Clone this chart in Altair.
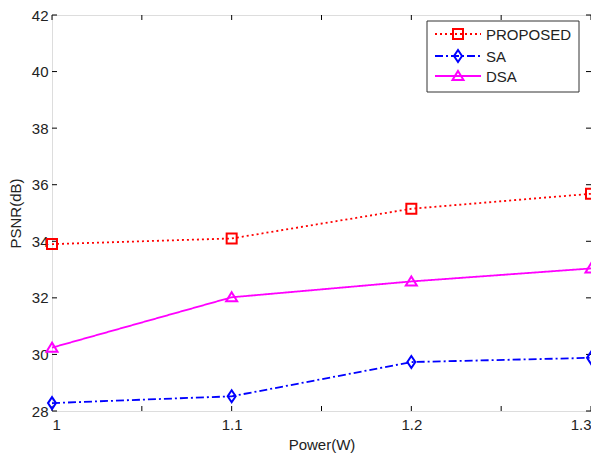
import altair as alt
import pandas as pd

power = [1.0, 1.1, 1.2, 1.3]
proposed = [33.9, 34.1, 35.15, 35.68]
sa = [28.28, 28.52, 29.73, 29.88]
dsa = [30.24, 32.02, 32.58, 33.04]

series_names = ["PROPOSED", "SA", "DSA"]
series_vals = [proposed, sa, dsa]
colors = ["#ff0000", "#0000ff", "#ff00ff"]
dashes = [[2, 3], [8, 3, 2, 3], [1, 0]]
shapes = [
    "square",
    "M0,-1.2L0.8,0L0,1.2L-0.8,0Z",
    "M0,-1L1.1,0.8L-1.1,0.8Z",
]

x_ticks = [1.0, 1.05, 1.1, 1.15, 1.2, 1.25, 1.3]
y_ticks = [28, 30, 32, 34, 36, 38, 40, 42]

W, H = 539, 396
FONT = "Liberation Sans"
FS = 15

xs = alt.Scale(domain=[1.0, 1.3], nice=False, zero=False)
ys = alt.Scale(domain=[28, 42], nice=False, zero=False)

x_axis = alt.Axis(
    values=x_ticks, title="Power(W)", grid=False, domain=False, ticks=False,
    labelExpr="abs(datum.value*10 - round(datum.value*10)) < 0.001 ? format(datum.value, '~g') : ''",
    labelFontSize=FS, titleFontSize=FS, labelFont=FONT, titleFont=FONT,
    labelColor="#222", titleColor="#222", titleFontWeight="normal",
    labelPadding=6, titlePadding=5,
)
y_axis = alt.Axis(
    values=y_ticks, title="PSNR(dB)", grid=False, domain=False, ticks=False,
    labelFontSize=FS, titleFontSize=FS, labelFont=FONT, titleFont=FONT,
    labelColor="#222", titleColor="#222", titleFontWeight="normal",
    labelPadding=4, titlePadding=8,
)

layers = []

# inward ticks
xt = pd.DataFrame({"x": x_ticks})
yt = pd.DataFrame({"y": y_ticks})
tick_len = 5
layers.append(alt.Chart(xt).mark_rule(color="#000", strokeWidth=1).encode(
    x=alt.X("x:Q", scale=xs, axis=x_axis), y=alt.value(H), y2=alt.value(H - tick_len)))
layers.append(alt.Chart(xt).mark_rule(color="#000", strokeWidth=1).encode(
    x=alt.X("x:Q", scale=xs), y=alt.value(0), y2=alt.value(tick_len)))
layers.append(alt.Chart(yt).mark_rule(color="#000", strokeWidth=1).encode(
    y=alt.Y("y:Q", scale=ys, axis=y_axis), x=alt.value(0), x2=alt.value(tick_len)))
layers.append(alt.Chart(yt).mark_rule(color="#000", strokeWidth=1).encode(
    y=alt.Y("y:Q", scale=ys), x=alt.value(W), x2=alt.value(W - tick_len)))

for name, vals, col, dash, shp in zip(series_names, series_vals, colors, dashes, shapes):
    df = pd.DataFrame({"power": power, "psnr": vals})
    base = alt.Chart(df).encode(
        x=alt.X("power:Q", scale=xs), y=alt.Y("psnr:Q", scale=ys))
    layers.append(base.mark_line(color=col, strokeWidth=1.8, strokeDash=dash))
    layers.append(base.mark_point(color=col, shape=shp, size=100, filled=False,
                                  strokeWidth=2, opacity=1))

# legend box
lx0, lx1, ly0, ly1 = 375, 527, 6, 77
layers.append(alt.Chart(pd.DataFrame({"a": [0]})).mark_rect(
    fill="white", stroke="#333", strokeWidth=1).encode(
    x=alt.value(lx0), x2=alt.value(lx1), y=alt.value(ly0), y2=alt.value(ly1)))
row_y = [19, 41, 61]
for name, col, dash, shp, ry in zip(series_names, colors, dashes, shapes, row_y):
    d = pd.DataFrame({"label": [name]})
    layers.append(alt.Chart(d).mark_rule(color=col, strokeWidth=1.8, strokeDash=dash).encode(
        x=alt.value(383), x2=alt.value(429), y=alt.value(ry)))
    layers.append(alt.Chart(d).mark_point(color=col, shape=shp, size=100, filled=False,
                                          strokeWidth=2, opacity=1).encode(
        x=alt.value(406), y=alt.value(ry)))
    layers.append(alt.Chart(d).mark_text(align="left", baseline="middle", fontSize=FS,
                                         font=FONT, color="#222").encode(
        x=alt.value(434), y=alt.value(ry + 1), text="label:N"))

chart = alt.layer(*layers).properties(
    width=W, height=H,
    autosize=alt.AutoSizeParams(type="none"),
    padding={"left": 44, "top": 7, "right": 0, "bottom": 43},
).configure_view(stroke="#000", strokeWidth=1).configure(background="white")

chart.save("out.html", embed_options={"renderer": "svg", "actions": False})
